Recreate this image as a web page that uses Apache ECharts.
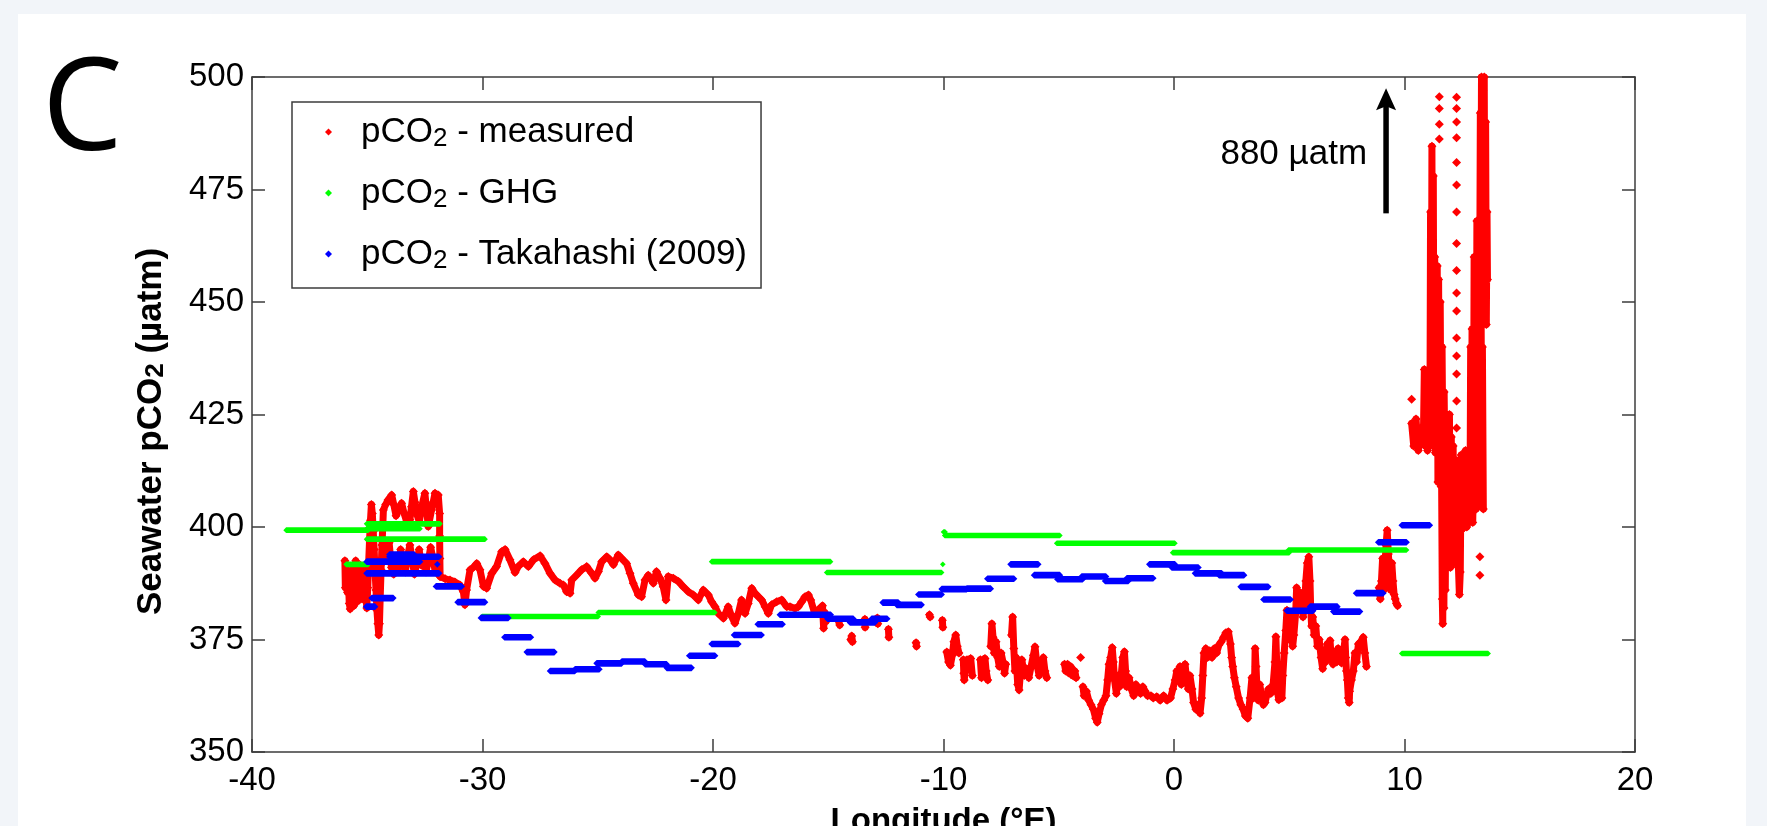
<!DOCTYPE html>
<html>
<head>
<meta charset="utf-8">
<script src="https://cdn.jsdelivr.net/npm/echarts/dist/echarts.min.js"></script>
<style>
  html, body { margin: 0; padding: 0; width: 1767px; height: 826px; overflow: hidden; background: #f2f5f9; }
  #panel { position: absolute; left: 18px; top: 14px; width: 1728px; height: 812px; background: #ffffff; }
  #chart { position: absolute; left: 0; top: 0; width: 1767px; height: 826px; }
</style>
</head>
<body>
<div id="panel"></div>
<div id="chart"></div>
<script>
// Axis ranges and ticks
const lonMin = -40, lonMax = 20, lonStep = 10;
const pco2Min = 350, pco2Max = 500, pco2Step = 25;

const seriesNames = ['pCO2 - measured', 'pCO2 - GHG', 'pCO2 - Takahashi (2009)'];
const panelLetter = 'C';
const xAxisTitle = 'Longitude (°E)';
const yAxisTitle = 'Seawater pCO2 (µatm)';

// Off-scale marker: arrow at a longitude, from base to tip, with its label level
const offscaleArrow = [[9.2, 469.7, 497.5, 482.8]];
const offscaleText = '880 µatm';

// GHG climatology: [lon start, lon end, pCO2]
const ghgSegments = [
  [-38.52, -34.95, 399.3], [-35.92, -34.95, 391.7], [-35.03, -31.84, 400.7],
  [-35.03, -32.71, 399.6], [-35.03, -29.89, 397.3], [-30.02, -24.98, 380.1],
  [-24.98, -19.92, 381.0], [-20.06, -14.9, 392.3], [-15.07, -10.08, 389.9],
  [-10.03, -10.03, 391.7], [-10.0, -9.93, 398.9], [-9.95, -4.95, 398.1],
  [-5.09, 0.04, 396.4], [-0.06, 5.0, 394.3], [4.96, 10.09, 394.9],
  [9.88, 13.63, 371.9]
];

// Takahashi (2009) climatology: [lon start, lon end, pCO2]
const takahashiSegments = [
  [-35.05, -34.66, 382.3], [-35.03, -32.71, 392.3], [-35.03, -31.88, 389.7],
  [-34.04, -31.88, 393.4], [-34.04, -32.96, 393.9], [-34.81, -33.87, 384.2],
  [-31.96, -31.96, 391.7], [-32.02, -30.9, 386.8], [-31.08, -29.89, 383.3],
  [-30.07, -28.88, 379.8], [-29.05, -27.9, 375.5], [-28.08, -26.88, 372.2],
  [-27.07, -25.99, 368.0], [-25.99, -24.93, 368.4], [-25.05, -23.96, 369.7],
  [-23.96, -22.95, 370.1], [-22.95, -22.01, 369.5], [-22.01, -20.93, 368.7],
  [-21.03, -19.91, 371.4], [-20.06, -18.9, 374.0], [-19.09, -17.89, 376.0],
  [-18.06, -16.98, 378.4], [-17.1, -14.89, 380.5], [-15.04, -13.91, 379.6],
  [-14.06, -12.97, 378.8], [-13.12, -12.44, 379.6], [-12.64, -11.96, 383.2],
  [-12.03, -10.95, 382.7], [-11.09, -10.08, 385.0], [-10.08, -8.99, 386.2],
  [-8.99, -7.95, 386.3], [-8.1, -6.94, 388.5], [-7.09, -5.89, 391.7],
  [-6.07, -4.95, 389.3], [-5.06, -3.96, 388.4], [-4.01, -2.95, 389.0],
  [-2.99, -1.98, 388.0], [-2.05, -0.9, 388.6], [-1.07, 0.04, 391.7],
  [-0.1, 1.06, 391.0], [0.91, 2.07, 389.7], [1.95, 3.04, 389.3],
  [2.89, 4.09, 386.7], [3.88, 5.06, 383.9], [4.89, 6.04, 381.4],
  [5.9, 7.09, 382.3], [6.91, 8.07, 381.2], [7.9, 9.08, 385.3],
  [8.86, 10.09, 396.6], [9.88, 11.1, 400.4]
];

// Underway measurements, one array per continuous stretch of track: [lon, pCO2]
const measuredWest = [
  [-35.97, 392.5], [-35.95, 386.5], [-35.9, 390.5], [-35.86, 385.5], [-35.82, 388.5],
  [-35.78, 383.0], [-35.74, 381.8], [-35.7, 386.0], [-35.66, 390.5], [-35.62, 384.5],
  [-35.58, 382.5], [-35.54, 388.0], [-35.5, 392.5], [-35.46, 387.0], [-35.42, 383.5],
  [-35.38, 389.0], [-35.34, 385.0], [-35.3, 391.5], [-35.26, 387.5], [-35.22, 384.0],
  [-35.18, 389.5], [-35.14, 386.0], [-35.1, 391.5], [-35.06, 385.0], [-35.02, 382.0],
  [-34.98, 386.5], [-34.94, 392.0], [-34.9, 397.0], [-34.86, 401.5], [-34.82, 405.0],
  [-34.78, 403.0], [-34.74, 399.0], [-34.7, 395.0], [-34.66, 390.0], [-34.62, 386.0],
  [-34.58, 381.5], [-34.54, 378.5], [-34.5, 376.0], [-34.47, 378.5], [-34.44, 384.0],
  [-34.4, 390.5], [-34.36, 396.0], [-34.32, 401.0], [-34.3, 403.8], [-34.2, 405.0],
  [-34.1, 406.0], [-33.94, 407.1], [-33.85, 405.0], [-33.75, 402.5], [-33.65, 403.8],
  [-33.51, 405.3], [-33.4, 403.0], [-33.29, 401.2], [-33.15, 401.6], [-33.08, 404.5],
  [-33.0, 407.9], [-32.93, 405.5], [-32.86, 403.0], [-32.74, 401.2], [-32.64, 404.5],
  [-32.5, 407.5], [-32.42, 403.5], [-32.35, 400.1], [-32.21, 403.8], [-32.14, 405.5],
  [-32.06, 407.5], [-31.92, 407.1], [-31.86, 403.0], [-31.86, 398.0], [-31.85, 393.0],
  [-31.84, 389.0]
];
const measuredWestLow = [
  [-34.35, 392.0], [-34.25, 395.5], [-34.15, 393.0], [-34.05, 396.5], [-33.95, 391.0],
  [-33.85, 389.5], [-33.75, 393.5], [-33.65, 391.0], [-33.55, 395.0], [-33.45, 392.0],
  [-33.35, 390.0], [-33.25, 393.5], [-33.15, 396.0], [-33.05, 392.5], [-32.95, 389.5],
  [-32.85, 392.0], [-32.75, 395.0], [-32.65, 391.5], [-32.55, 393.0], [-32.45, 390.0],
  [-32.35, 392.5], [-32.25, 395.5], [-32.15, 393.0], [-32.05, 390.0], [-31.95, 391.5]
];
const measuredCentral = [
  [-31.84, 389.0], [-31.62, 388.5], [-31.41, 388.2], [-31.2, 387.8], [-30.98, 387.1],
  [-30.83, 385.6], [-30.76, 382.7], [-30.69, 386.0], [-30.54, 390.5], [-30.4, 391.0],
  [-30.25, 391.9], [-30.11, 390.5], [-29.96, 386.8], [-29.82, 386.4], [-29.6, 389.7],
  [-29.39, 391.2], [-29.17, 394.5], [-29.02, 395.0], [-28.81, 392.7], [-28.59, 389.9],
  [-28.45, 391.2], [-28.23, 392.3], [-28.01, 391.2], [-27.79, 392.7], [-27.5, 393.6],
  [-27.29, 391.9], [-27.07, 389.7], [-26.85, 388.2], [-26.64, 387.5], [-26.49, 387.1],
  [-26.35, 385.6], [-26.2, 385.3], [-26.13, 388.2], [-25.92, 389.3], [-25.7, 390.5],
  [-25.48, 391.2], [-25.26, 389.7], [-25.12, 388.6], [-24.97, 390.1], [-24.83, 392.3],
  [-24.61, 393.4], [-24.47, 392.7], [-24.32, 391.6], [-24.11, 393.8], [-23.96, 393.0],
  [-23.75, 391.9], [-23.6, 389.7], [-23.46, 387.5], [-23.24, 384.9], [-23.1, 384.5],
  [-22.95, 388.2], [-22.81, 389.3], [-22.59, 387.5], [-22.45, 390.1], [-22.3, 388.6],
  [-22.16, 386.7], [-22.04, 383.8], [-21.94, 389.0], [-21.72, 388.6], [-21.5, 387.9],
  [-21.29, 386.7], [-21.07, 385.6], [-20.85, 384.9], [-20.64, 383.8], [-20.42, 386.0],
  [-20.2, 384.9], [-20.06, 383.4], [-19.91, 382.3], [-19.77, 380.8], [-19.55, 379.7],
  [-19.34, 382.3], [-19.19, 380.1], [-19.05, 378.6], [-18.9, 380.8], [-18.76, 383.8],
  [-18.61, 380.8], [-18.47, 383.0], [-18.32, 386.4], [-18.18, 385.3], [-18.03, 384.5],
  [-17.89, 383.8], [-17.74, 382.3], [-17.6, 380.8], [-17.46, 382.7], [-17.24, 383.4],
  [-17.02, 383.8], [-16.8, 382.3], [-16.66, 382.3], [-16.44, 381.9], [-16.3, 382.3],
  [-16.15, 383.4], [-16.01, 384.5], [-15.86, 384.9], [-15.76, 383.8], [-15.6, 381.0],
  [-15.45, 381.5], [-15.25, 382.5], [-15.2, 377.5], [-15.15, 381.0], [-15.1, 379.0]
];
const measuredSparse = [
  [[-14.56, 379.2], [-14.5, 378.2]], [[-14.02, 375.0], [-13.98, 375.8], [-13.95, 374.5]],
  [[-13.41, 379.5], [-13.4, 377.7]], [[-12.87, 379.8], [-12.85, 378.5]],
  [[-12.39, 377.3], [-12.37, 375.5]], [[-11.19, 374.3], [-11.17, 373.5]],
  [[-10.61, 380.5], [-10.58, 380.0]], [[-10.05, 379.3], [-10.03, 377.7]],
  [[-9.86, 372.2], [-9.78, 370.0], [-9.7, 369.3], [-9.62, 371.5], [-9.55, 374.5],
   [-9.47, 376.0], [-9.4, 373.5], [-9.33, 372.0]],
  [[-9.14, 370.5], [-9.12, 367.5], [-9.1, 366.0], [-9.05, 368.5], [-8.98, 370.5],
   [-8.9, 369.0], [-8.82, 370.8], [-8.75, 367.0]],
  [[-8.4, 370.5], [-8.35, 366.5], [-8.3, 368.0], [-8.2, 370.8], [-8.15, 368.0], [-8.08, 366.0]],
  [[-7.95, 373.5], [-7.9, 378.5], [-7.85, 375.5], [-7.8, 372.0], [-7.72, 374.5],
   [-7.65, 371.0], [-7.58, 369.0], [-7.5, 372.0], [-7.42, 370.0], [-7.35, 367.5], [-7.3, 369.5]],
  [[-7.05, 376.0], [-7.0, 380.0], [-6.95, 373.0], [-6.9, 368.0], [-6.85, 371.0],
   [-6.78, 365.0], [-6.72, 363.8], [-6.68, 366.5], [-6.6, 370.5], [-6.5, 367.0],
   [-6.4, 368.5], [-6.3, 366.5], [-6.2, 369.0], [-6.1, 371.5], [-6.03, 373.4],
   [-5.95, 369.5], [-5.85, 367.0], [-5.75, 370.0], [-5.67, 371.0], [-5.6, 368.0], [-5.52, 366.5]],
  [[-4.75, 369.5], [-4.7, 368.0], [-4.62, 369.5], [-4.55, 367.5], [-4.48, 369.0],
   [-4.4, 367.0], [-4.3, 368.0], [-4.25, 366.5]],
  [[-4.05, 371.0]]
];
const measuredEast = [
  [-3.95, 364.5], [-3.9, 362.5], [-3.8, 363.5], [-3.7, 361.5], [-3.6, 360.5],
  [-3.5, 359.5], [-3.4, 357.5], [-3.33, 356.6], [-3.25, 358.5], [-3.15, 360.5],
  [-3.05, 361.5], [-2.95, 362.5], [-2.88, 366.0], [-2.82, 369.5], [-2.75, 371.0],
  [-2.68, 373.2], [-2.63, 370.0], [-2.58, 366.0], [-2.5, 363.0], [-2.42, 367.0],
  [-2.36, 364.5], [-2.3, 366.5], [-2.22, 371.0], [-2.15, 372.3], [-2.1, 368.0],
  [-2.05, 364.5], [-1.95, 366.5], [-1.85, 364.0], [-1.75, 362.5], [-1.65, 365.0],
  [-1.55, 364.0], [-1.45, 363.0], [-1.35, 364.5], [-1.25, 363.5], [-1.15, 362.5],
  [-1.0, 362.5], [-0.9, 362.0], [-0.75, 362.3], [-0.6, 361.5], [-0.45, 362.5],
  [-0.3, 361.5], [-0.15, 362.0], [-0.05, 364.0], [0.05, 366.0], [0.12, 368.0],
  [0.2, 366.5], [0.26, 369.0], [0.32, 365.0], [0.4, 367.5], [0.48, 369.5],
  [0.55, 366.0], [0.62, 364.0], [0.69, 367.0], [0.78, 364.0], [0.85, 361.0],
  [0.95, 359.5], [1.05, 360.5], [1.13, 358.6], [1.2, 362.0], [1.25, 367.0],
  [1.3, 372.0], [1.38, 373.0], [1.45, 371.0], [1.55, 372.5], [1.65, 371.0],
  [1.75, 373.0], [1.85, 372.0], [1.95, 373.8], [2.05, 374.5], [2.15, 375.5],
  [2.25, 376.5], [2.36, 376.7], [2.45, 374.0], [2.5, 371.0], [2.55, 369.0],
  [2.62, 366.5], [2.7, 364.5], [2.8, 362.0], [2.9, 360.5], [3.0, 359.5],
  [3.1, 358.0], [3.2, 357.5], [3.3, 362.0], [3.38, 366.5], [3.45, 362.0],
  [3.5, 367.0], [3.52, 373.0], [3.56, 369.0], [3.6, 364.0], [3.66, 361.5],
  [3.72, 365.0], [3.8, 362.5], [3.88, 360.5], [3.95, 361.0], [4.02, 362.5],
  [4.1, 364.0], [4.2, 363.0], [4.3, 365.0], [4.38, 370.0], [4.42, 375.6],
  [4.46, 369.0], [4.5, 363.0], [4.55, 361.6], [4.62, 365.0], [4.68, 362.0],
  [4.72, 367.0], [4.78, 372.0], [4.85, 377.0], [4.9, 381.5], [4.95, 378.0],
  [5.0, 375.0], [5.05, 380.0], [5.1, 377.0], [5.15, 373.5], [5.2, 376.0],
  [5.28, 381.0], [5.32, 386.5], [5.38, 383.0], [5.45, 385.5], [5.5, 381.5],
  [5.55, 383.0], [5.6, 380.0], [5.68, 384.0], [5.72, 388.0], [5.78, 392.0],
  [5.85, 393.4], [5.9, 388.0], [5.93, 382.0], [5.97, 378.0], [6.02, 380.0],
  [6.08, 376.0], [6.15, 378.0], [6.22, 373.5], [6.3, 375.0], [6.38, 371.0],
  [6.45, 368.5], [6.5, 372.0], [6.58, 370.0], [6.65, 374.0], [6.72, 371.0],
  [6.77, 374.8], [6.82, 371.0], [6.9, 369.5], [6.98, 372.0], [7.06, 370.0],
  [7.12, 373.0], [7.2, 371.5], [7.27, 369.8], [7.35, 372.0], [7.42, 375.0],
  [7.45, 371.0], [7.48, 368.0], [7.52, 366.0], [7.56, 362.0], [7.6, 361.0],
  [7.62, 363.5], [7.7, 366.0], [7.78, 368.0], [7.85, 372.0], [7.92, 370.0],
  [8.0, 374.0], [8.1, 374.5], [8.21, 375.5], [8.28, 372.0], [8.35, 369.0]
];
const measuredCoast = [
  [8.9, 386.5], [8.95, 384.0], [9.0, 388.0], [9.05, 393.0], [9.1, 386.0],
  [9.15, 391.0], [9.2, 396.0], [9.25, 399.3], [9.3, 394.0], [9.35, 390.0],
  [9.4, 386.0], [9.45, 392.0], [9.5, 388.0], [9.55, 385.0], [9.6, 384.0],
  [9.65, 383.0], [9.7, 382.5]
];
const measuredShelf = [
  [[10.31, 428.4]],
  [[10.31, 423.0], [10.4, 418.0], [10.5, 424.0], [10.6, 417.0], [10.7, 422.0],
   [10.8, 418.5], [10.9, 424.0], [11.0, 418.0]],
  [[10.82, 420.0], [10.86, 435.0], [10.9, 418.0], [10.95, 432.0], [11.0, 417.0],
   [11.05, 430.0], [11.1, 418.0], [11.13, 470.0], [11.16, 420.0], [11.19, 484.6],
   [11.22, 425.0], [11.25, 478.0], [11.28, 418.0], [11.31, 460.0], [11.34, 416.5],
   [11.37, 445.0], [11.39, 420.0], [11.42, 458.0], [11.45, 410.0], [11.48, 455.0],
   [11.51, 412.0], [11.55, 450.0], [11.59, 409.0], [11.61, 410.0], [11.64, 384.0],
   [11.66, 378.5], [11.68, 414.0], [11.71, 382.0], [11.74, 416.5], [11.77, 386.0],
   [11.8, 412.0], [11.83, 395.0], [11.87, 422.0], [11.91, 392.0], [11.95, 425.0],
   [11.99, 391.0], [12.03, 420.0], [12.07, 393.0], [12.11, 418.0], [12.15, 392.0],
   [12.19, 415.0], [12.23, 395.0], [12.27, 405.0], [12.31, 398.0], [12.34, 391.0],
   [12.38, 385.0], [12.42, 390.0], [12.46, 416.0], [12.5, 399.5], [12.55, 415.0],
   [12.6, 400.0], [12.65, 417.0], [12.7, 400.0], [12.75, 415.0], [12.8, 401.0],
   [12.84, 403.0], [12.87, 440.0], [12.9, 402.0], [12.93, 444.0], [12.96, 401.0],
   [12.99, 410.0], [13.02, 460.0], [13.05, 405.0], [13.08, 455.0], [13.11, 404.0],
   [13.14, 468.0], [13.17, 408.0], [13.2, 462.0], [13.23, 410.0], [13.26, 466.0],
   [13.29, 405.0], [13.32, 455.0], [13.35, 410.0], [13.38, 440.0], [13.42, 404.0]],
  [[11.63, 440.0], [11.67, 412.0], [11.72, 430.0], [11.76, 410.0]],
  [[13.26, 450.0], [13.29, 492.0], [13.31, 455.0], [13.34, 500.0], [13.37, 448.0],
   [13.4, 497.0], [13.43, 452.0], [13.46, 500.0], [13.49, 446.0], [13.52, 490.0],
   [13.55, 445.0], [13.58, 470.0], [13.6, 455.0]],
  [[11.51, 495.6]], [[11.51, 493.0]], [[11.51, 489.5]], [[11.51, 486.2]],
  [[12.26, 495.5]], [[12.26, 493.0]], [[12.26, 490.0]], [[12.26, 486.5]],
  [[12.26, 481.0]], [[12.26, 476.0]], [[12.26, 470.0]], [[12.26, 463.0]],
  [[12.26, 457.0]], [[12.26, 452.0]], [[12.26, 448.0]], [[12.26, 442.0]],
  [[12.26, 438.0]], [[12.26, 434.0]], [[12.26, 428.0]], [[12.26, 422.0]],
  [[13.27, 393.4]], [[13.27, 389.3]]
];

// Build one line-series data array, breaking the line between stretches
function joinRuns(runs) {
  const out = [];
  runs.forEach((run, i) => {
    if (i > 0) out.push(['-', '-']);
    run.forEach(p => out.push(p));
  });
  return out;
}
const measuredData = joinRuns([
  measuredWest, measuredWestLow, measuredCentral,
  ...measuredSparse, measuredEast, measuredCoast, ...measuredShelf
]);

const FONT = '"Liberation Sans", Arial, sans-serif';
const AXIS_COLOR = '#3c3c3c';

// Horizontal climatology bar with pointed ends, placed through the axes
function segmentSeries(name, segs, color, half, z) {
  return {
    type: 'custom', name: name, data: segs,
    encode: { x: [0, 1], y: 2 },
    itemStyle: { color: color },
    silent: true, z: z,
    renderItem: function (params, api) {
      const a = api.coord([api.value(0), api.value(2)]);
      const b = api.coord([api.value(1), api.value(2)]);
      return {
        type: 'polygon',
        shape: { points: [
          [a[0] - half, a[1]], [a[0], a[1] - half], [b[0], b[1] - half],
          [b[0] + half, b[1]], [b[0], b[1] + half], [a[0], a[1] + half]
        ] },
        style: { fill: color }
      };
    }
  };
}

const legendRich = {
  gap: { width: 24 },
  sub: { fontSize: 26, lineHeight: 12, verticalAlign: 'bottom', fontFamily: FONT, color: '#000' }
};
const nameRich = {
  sub: { fontSize: 26, lineHeight: 12, verticalAlign: 'bottom', fontFamily: FONT, fontWeight: 'bold', color: '#000' }
};

const chart = echarts.init(document.getElementById('chart'), null, { renderer: 'canvas' });

const option = {
  animation: false,
  backgroundColor: 'transparent',
  grid: { left: 252, right: 132, top: 77, bottom: 74, containLabel: false, outerBoundsMode: 'none' },
  graphic: [{
    type: 'text', left: 42, top: 50,
    style: { text: panelLetter, font: '400 128px "Open Sans", "Noto Sans", sans-serif', fill: '#000' }
  }],
  legend: {
    orient: 'vertical', left: 292, top: 102,
    padding: [10, 14, 14, 33],
    itemWidth: 7, itemHeight: 7, itemGap: 21,
    icon: 'diamond',
    borderColor: AXIS_COLOR, borderWidth: 1.5, backgroundColor: '#ffffff',
    selectedMode: false,
    data: seriesNames,
    formatter: function (n) { return '{gap|}' + n.replace('pCO2', 'pCO{sub|2}'); },
    textStyle: { fontFamily: FONT, fontSize: 35, color: '#000', lineHeight: 40, rich: legendRich }
  },
  xAxis: [{
    type: 'value', min: lonMin, max: lonMax, interval: lonStep, position: 'bottom',
    axisLine: { show: true, onZero: false, lineStyle: { color: AXIS_COLOR, width: 1.5 } },
    axisTick: { show: true, inside: true, length: 13, lineStyle: { color: AXIS_COLOR, width: 1.5 } },
    axisLabel: { fontFamily: FONT, fontSize: 33, color: '#000', margin: 12 },
    splitLine: { show: false },
    name: xAxisTitle, nameLocation: 'middle', nameGap: 53,
    nameTextStyle: { fontFamily: FONT, fontSize: 33, fontWeight: 'bold', color: '#000' }
  }, {
    type: 'value', min: lonMin, max: lonMax, interval: lonStep, position: 'top',
    axisLine: { show: true, onZero: false, lineStyle: { color: AXIS_COLOR, width: 1.5 } },
    axisTick: { show: true, inside: true, length: 13, lineStyle: { color: AXIS_COLOR, width: 1.5 } },
    axisLabel: { show: false }, splitLine: { show: false }
  }],
  yAxis: [{
    type: 'value', min: pco2Min, max: pco2Max, interval: pco2Step, position: 'left',
    axisLine: { show: true, onZero: false, lineStyle: { color: AXIS_COLOR, width: 1.5 } },
    axisTick: { show: true, inside: true, length: 13, lineStyle: { color: AXIS_COLOR, width: 1.5 } },
    axisLabel: { fontFamily: FONT, fontSize: 33, color: '#000', margin: 8 },
    splitLine: { show: false },
    name: yAxisTitle.replace('pCO2', 'pCO{sub|2}'), nameLocation: 'middle', nameGap: 83, nameRotate: 90,
    nameTextStyle: { fontFamily: FONT, fontSize: 35, fontWeight: 'bold', color: '#000', padding: [0, 34, 0, 0], rich: nameRich }
  }, {
    type: 'value', min: pco2Min, max: pco2Max, interval: pco2Step, position: 'right',
    axisLine: { show: true, onZero: false, lineStyle: { color: AXIS_COLOR, width: 1.5 } },
    axisTick: { show: true, inside: true, length: 13, lineStyle: { color: AXIS_COLOR, width: 1.5 } },
    axisLabel: { show: false }, splitLine: { show: false }
  }],
  series: [
    {
      type: 'line', name: seriesNames[0], data: measuredData,
      xAxisIndex: 0, yAxisIndex: 0, connectNulls: false,
      showSymbol: true, symbol: 'diamond', symbolSize: 9,
      itemStyle: { color: '#ff0000' },
      lineStyle: { color: '#ff0000', width: 7, cap: 'round', join: 'round' },
      emphasis: { disabled: true }, silent: true, z: 2
    },
    segmentSeries(seriesNames[1], ghgSegments, '#00ff00', 2.8, 3),
    segmentSeries(seriesNames[2], takahashiSegments, '#0000ff', 3.3, 4),
    {
      type: 'custom', name: 'offscale', data: offscaleArrow,
      encode: { x: 0, y: [1, 2] }, silent: true, z: 5,
      renderItem: function (params, api) {
        const base = api.coord([api.value(0), api.value(1)]);
        const tip = api.coord([api.value(0), api.value(2)]);
        const lab = api.coord([api.value(0), api.value(3)]);
        return {
          type: 'group',
          children: [
            { type: 'line', shape: { x1: base[0], y1: base[1], x2: tip[0], y2: tip[1] + 16 },
              style: { stroke: '#000', lineWidth: 5.5 } },
            { type: 'polygon', shape: { points: [[tip[0], tip[1]], [tip[0] - 10, tip[1] + 22], [tip[0], tip[1] + 18], [tip[0] + 10, tip[1] + 22]] },
              style: { fill: '#000' } },
            { type: 'text', x: lab[0] - 19, y: lab[1],
              style: { text: offscaleText, fontFamily: FONT, fontSize: 35, fill: '#000', align: 'right', verticalAlign: 'middle' } }
          ]
        };
      }
    }
  ]
};
chart.setOption(option);
</script>
</body>
</html>
